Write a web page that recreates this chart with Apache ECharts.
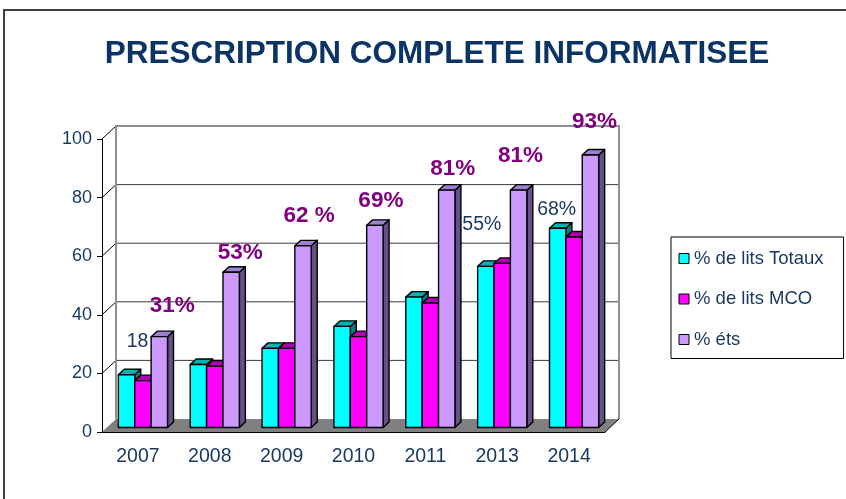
<!DOCTYPE html>
<html>
<head>
<meta charset="utf-8">
<script src="https://cdn.jsdelivr.net/npm/echarts@6/dist/echarts.min.js"></script>
<style>
  html, body { margin: 0; padding: 0; background: #fff; }
  #chart { width: 846px; height: 499px; }
</style>
</head>
<body>
<div id="chart"></div>
<script>
// données
var years = ['2007', '2008', '2009', '2010', '2011', '2013', '2014'];
var litsTotaux = [18, 21.5, 27, 34.5, 44.5, 55, 68];
var litsMCO = [16, 21, 27, 31, 42.5, 56, 65];
var etablissements = [31, 53, 62, 69, 81, 81, 93];
var yTicks = [0, 20, 40, 60, 80, 100];
var totauxLabels = ['18', '', '', '', '', '55%', '68%'];
var etsLabels = ['31%', '53%', '62 %', '69%', '81%', '81%', '93%'];
var seriesNames = ['% de lits Totaux', '% de lits MCO', '% éts'];

// mise en page (décalages des étiquettes par rapport au haut de la barre)
var totauxLabelShift = [[11, -33], null, null, null, null, [-4, -42], [-1, -19]];
var etsLabelShift = [[13, -31], [9, -19], [6, -30], [6, -25], [6, -21], [2, -34], [4, -33]];

// effet 3D
var WALL = [14, -13];
var BAR_FRONT = [5, -4.5];
var BAR_DEPTH = [6, -5.5];
var FONT = 'Liberation Sans, Arial, sans-serif';

var chart = echarts.init(document.getElementById('chart'));

function renderFrame(params, api) {
  var cs = params.coordSys;
  var L = cs.x, R = cs.x + cs.width;
  var B = api.coord([0, yTicks[0]])[1];
  var T = api.coord([0, yTicks[yTicks.length - 1]])[1];
  var dx = WALL[0], dy = WALL[1];
  var children = [];
  // sol
  children.push({
    type: 'polygon',
    shape: { points: [[L, B], [R, B], [R + dx, B + dy], [L + dx, B + dy]] },
    style: { fill: '#808080' }
  });
  yTicks.forEach(function (v) {
    var y = api.coord([0, v])[1];
    if (v > yTicks[0] && v < yTicks[yTicks.length - 1]) {
      children.push({
        type: 'line',
        shape: { x1: L + dx, y1: y + dy, x2: R + dx, y2: y + dy },
        style: { stroke: '#3a3a3a', lineWidth: 1 }
      });
    }
    if (v > yTicks[0]) {
      children.push({
        type: 'line',
        shape: { x1: L, y1: y, x2: L + dx, y2: y + dy },
        style: { stroke: '#000', lineWidth: 1 }
      });
    }
  });
  // bords du mur du fond
  children.push({
    type: 'polyline',
    shape: { points: [[L + dx, B + dy], [L + dx, T + dy], [R + dx, T + dy], [R + dx, B + dy]] },
    style: { stroke: '#909090', lineWidth: 2, fill: null }
  });
  children.push({
    type: 'line',
    shape: { x1: R, y1: B, x2: R + dx, y2: B + dy },
    style: { stroke: '#000', lineWidth: 1 }
  });
  return { type: 'group', children: children };
}

function barRenderer(sIdx, colors, labels, shifts, labelStyle) {
  return function (params, api) {
    var i = api.value(0), v = api.value(1);
    var top = api.coord([i, v]);
    var base = api.coord([i, 0]);
    var band = api.size([1, 0])[0];
    var w = band * 0.228;
    var x0 = top[0] - 1.5 * w + sIdx * w + BAR_FRONT[0];
    var yT = top[1] + BAR_FRONT[1];
    var yB = base[1] + BAR_FRONT[1];
    var dx = BAR_DEPTH[0], dy = BAR_DEPTH[1];
    function st(fill) {
      return { fill: fill, stroke: '#000', lineWidth: 1.4, lineJoin: 'round' };
    }
    var children = [
      {
        type: 'polygon',
        shape: { points: [[x0 + w, yT], [x0 + w + dx, yT + dy], [x0 + w + dx, yB + dy], [x0 + w, yB]] },
        style: st(colors.side)
      },
      {
        type: 'polygon',
        shape: { points: [[x0, yT], [x0 + dx, yT + dy], [x0 + w + dx, yT + dy], [x0 + w, yT]] },
        style: st(colors.top)
      },
      {
        type: 'rect',
        shape: { x: x0, y: yT, width: w, height: yB - yT },
        style: st(colors.front)
      }
    ];
    if (labels[i]) {
      var s = shifts[i] || [0, -20];
      children.push({
        type: 'text',
        x: x0 + w / 2 + s[0],
        y: yT + s[1],
        z2: 100,
        style: Object.assign({
          text: labels[i],
          align: 'center',
          verticalAlign: 'middle',
          fontFamily: FONT
        }, labelStyle)
      });
    }
    return { type: 'group', children: children };
  };
}

function toPairs(arr) {
  return arr.map(function (v, i) { return [i, v]; });
}

var noLabels = years.map(function () { return ''; });

var option = {
  backgroundColor: '#fff',
  animation: false,
  title: {
    text: 'PRESCRIPTION COMPLETE INFORMATISEE',
    left: 432,
    top: 33,
    textAlign: 'center',
    textStyle: { fontFamily: FONT, fontSize: 31.5, fontWeight: 'bold', color: '#0a3366' }
  },
  graphic: [{
    type: 'rect',
    shape: { x: 4, y: 10, width: 1000, height: 1000 },
    style: { fill: null, stroke: '#404040', lineWidth: 2 },
    silent: true
  }],
  legend: {
    data: seriesNames,
    orient: 'vertical',
    left: 671,
    top: 237,
    icon: 'rect',
    itemWidth: 10,
    itemHeight: 10,
    itemGap: 21.5,
    padding: [12, 20, 9.5, 7.5],
    borderColor: '#000',
    borderWidth: 1,
    itemStyle: { borderColor: '#000', borderWidth: 1 },
    textStyle: { fontFamily: FONT, fontSize: 18.5, lineHeight: 18, color: '#17375e' }
  },
  grid: { left: 102, top: 139, width: 503, height: 293 },
  xAxis: {
    type: 'category',
    data: years,
    z: 5,
    axisLine: { lineStyle: { color: '#000', width: 1 } },
    axisTick: { length: 6, lineStyle: { color: '#000' } },
    axisLabel: { margin: 15, fontFamily: FONT, fontSize: 19.5, color: '#17375e' },
    splitLine: { show: false }
  },
  yAxis: {
    type: 'value',
    min: 0,
    max: 100,
    interval: 20,
    z: 5,
    axisLine: { show: true, lineStyle: { color: '#000', width: 1 } },
    axisTick: { show: true, length: 5, lineStyle: { color: '#000' } },
    axisLabel: { margin: 10, fontFamily: FONT, fontSize: 18, color: '#17375e' },
    splitLine: { show: false }
  },
  series: [
    {
      name: 'cadre',
      type: 'custom',
      silent: true,
      data: [[0, 0]],
      encode: { x: 0, y: 1 },
      renderItem: renderFrame
    },
    {
      name: seriesNames[0],
      type: 'custom',
      data: toPairs(litsTotaux),
      encode: { x: 0, y: 1 },
      itemStyle: { color: '#00ffff' },
      renderItem: barRenderer(0, { front: '#00ffff', top: '#00b2b2', side: '#008080' },
        totauxLabels, totauxLabelShift, { fontSize: 19.5, fill: '#17375e' })
    },
    {
      name: seriesNames[1],
      type: 'custom',
      data: toPairs(litsMCO),
      encode: { x: 0, y: 1 },
      itemStyle: { color: '#ff00ff' },
      renderItem: barRenderer(1, { front: '#ff00ff', top: '#b000b0', side: '#800080' },
        noLabels, [], {})
    },
    {
      name: seriesNames[2],
      type: 'custom',
      data: toPairs(etablissements),
      encode: { x: 0, y: 1 },
      itemStyle: { color: '#cc99ff' },
      renderItem: barRenderer(2, { front: '#cc99ff', top: '#9f7fd0', side: '#65508a' },
        etsLabels, etsLabelShift, { fontSize: 22.5, fontWeight: 'bold', fill: '#800080' })
    }
  ]
};

chart.setOption(option);
window.addEventListener('resize', function () { chart.resize(); });
</script>
</body>
</html>
